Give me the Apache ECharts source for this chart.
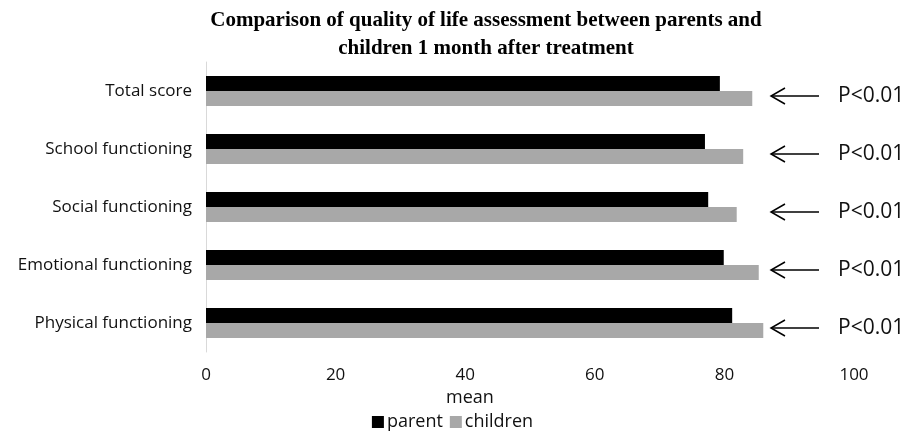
<!DOCTYPE html>
<html>
<head>
<meta charset="utf-8">
<script src="https://cdn.jsdelivr.net/npm/echarts@6/dist/echarts.min.js"></script>
<style>html,body{margin:0;padding:0;background:#fff}#c{width:905px;height:432px}</style>
</head>
<body>
<div id="c"></div>
<script>
// Categories listed bottom to top (category axis order)
const categories = ['Physical functioning', 'Emotional functioning', 'Social functioning', 'School functioning', 'Total score'];
const parentValues = [81.2, 79.9, 77.5, 77.0, 79.3];
const childrenValues = [86.0, 85.3, 81.9, 82.9, 84.3];
const pLabels = ['P<0.01', 'P<0.01', 'P<0.01', 'P<0.01', 'P<0.01'];
const xTicks = [0, 20, 40, 60, 80, 100];

const chart = echarts.init(document.getElementById('c'), null, {renderer: 'canvas'});
const option = {
  animation: false,
  backgroundColor: '#ffffff',
  title: {
    text: 'Comparison of quality of life assessment between parents and\nchildren 1 month after treatment',
    left: 486,
    textAlign: 'center',
    top: 0,
    padding: [7, 0, 0, 0],
    textStyle: {
      fontFamily: 'Liberation Serif',
      fontWeight: 'bold',
      fontSize: 21,
      lineHeight: 28,
      color: '#000'
    }
  },
  legend: {
    data: ['parent', 'children'],
    top: 413,
    left: 'center',
    padding: 0,
    itemWidth: 12,
    itemHeight: 12,
    itemGap: 7,
    icon: 'rect',
    textStyle: {fontFamily: 'Open Sans', fontSize: 18, color: '#111', padding: [0, 0, 0, -2]}
  },
  grid: {left: 206, right: 51, top: 62, bottom: 80, containLabel: false},
  xAxis: {
    type: 'value',
    min: xTicks[0],
    max: xTicks[xTicks.length - 1],
    interval: xTicks[1] - xTicks[0],
    name: 'mean',
    nameLocation: 'middle',
    nameGap: 35,
    nameTextStyle: {fontFamily: 'Open Sans', fontSize: 18, color: '#111', padding: [0, 120, 0, 0]},
    axisLine: {show: false},
    axisTick: {show: false},
    splitLine: {show: false},
    axisLabel: {fontFamily: 'Open Sans', fontSize: 17, color: '#111', margin: 15}
  },
  yAxis: {
    type: 'category',
    data: categories,
    axisLine: {show: true, lineStyle: {color: '#d9d9d9', width: 1}},
    axisTick: {show: false},
    axisLabel: {fontFamily: 'Open Sans', fontSize: 17, color: '#111', margin: 14}
  },
  series: [
    {
      name: 'parent',
      type: 'bar',
      data: parentValues,
      barWidth: 15,
      barGap: '0%',
      itemStyle: {color: '#000000'}
    },
    {
      name: 'children',
      type: 'bar',
      data: childrenValues,
      barWidth: 15,
      barGap: '0%',
      itemStyle: {color: '#a8a8a8'}
    }
  ]
};
chart.setOption(option);

// P-value annotations with arrows, aligned to each category row
const graphics = [];
categories.forEach(function (cat, i) {
  const y = chart.convertToPixel({yAxisIndex: 0}, cat) + 5;
  const x0 = 771, x1 = 819;
  graphics.push({
    type: 'polyline',
    shape: {points: [[x0, y], [x1, y]]},
    style: {stroke: '#000', lineWidth: 1.5, fill: null}
  });
  graphics.push({
    type: 'polyline',
    shape: {points: [[x0 + 14, y - 8], [x0, y], [x0 + 14, y + 8]]},
    style: {stroke: '#000', lineWidth: 1.5, fill: null}
  });
  graphics.push({
    type: 'text',
    x: 838,
    y: y,
    style: {text: pLabels[i], fontFamily: 'Open Sans', fontSize: 21, fill: '#111', verticalAlign: 'middle', align: 'left'}
  });
});
chart.setOption({graphic: graphics});
</script>
</body>
</html>
